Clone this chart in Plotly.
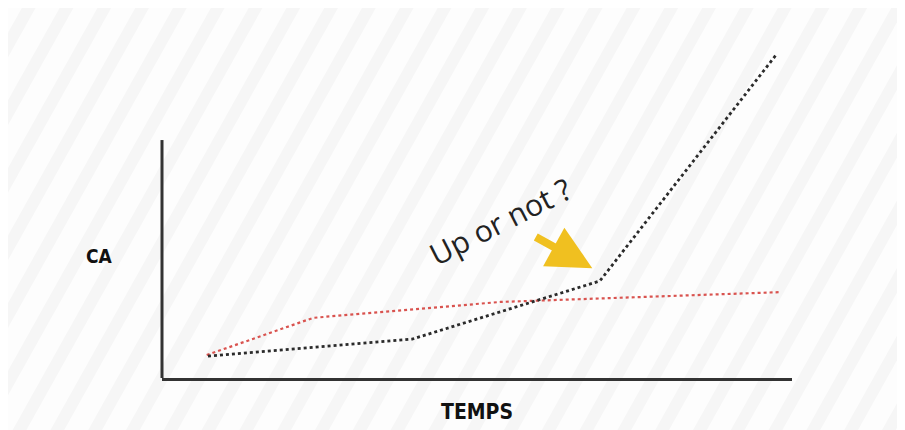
import plotly.graph_objects as go

# Data (x: time, y: CA)
black_x = [7.3, 39.7, 69.5, 97.6]
black_y = [6.5, 11.5, 28.7, 95.9]
red_x = [7.1, 24.0, 53.7, 98.1]
red_y = [6.8, 17.8, 22.5, 25.4]

x_label = "TEMPS"
y_label = "CA"
note = "Up or not ?"

fig = go.Figure()
fig.add_trace(go.Scatter(x=red_x, y=red_y, mode="lines",
                         line=dict(color="#d9534f", width=2.2, dash="dot")))
fig.add_trace(go.Scatter(x=black_x, y=black_y, mode="lines",
                         line=dict(color="#2b2b2b", width=2.8, dash="dot")))

# faint diagonal background stripes
shapes = []
for i in range(-12, 30):
    x0 = i * 0.06
    shapes.append(dict(type="line", xref="paper", yref="paper",
                       x0=x0, y0=-0.2, x1=x0 + 0.45, y1=1.3,
                       line=dict(color="#f6f6f6", width=12), layer="below"))
# y axis line (shorter than plot area)
shapes.append(dict(type="line", xref="paper", yref="y", x0=0, x1=0, y0=0, y1=70.4,
                   line=dict(color="#333333", width=3)))
fig.update_layout(shapes=shapes)

label_font = "DejaVu Sans Condensed, Liberation Sans Narrow, Liberation Sans, Arial"

fig.add_annotation(x=68.3, y=32.5, ax=-58, ay=-32, text="", showarrow=True,
                   arrowhead=2, arrowsize=1.1, arrowwidth=8, arrowcolor="#f0c020")
fig.add_annotation(x=53.6, y=46.4, text=note, showarrow=False, textangle=-27,
                   font=dict(family="Open Sans", size=30, color="#222222"))
fig.add_annotation(x=-0.1, y=0.36, xref="paper", yref="paper", text=y_label,
                   showarrow=False, xanchor="center",
                   font=dict(family=label_font, size=19, color="#111111", weight="bold"))
fig.add_annotation(x=0.5, y=-0.10, xref="paper", yref="paper", text=x_label,
                   showarrow=False, yanchor="middle",
                   font=dict(family=label_font, size=21, color="#111111", weight="bold"))

fig.update_xaxes(range=[0, 100], showgrid=False, zeroline=False, showticklabels=False,
                 ticks="", showline=True, linecolor="#333333", linewidth=3)
fig.update_yaxes(range=[0, 100], showgrid=False, zeroline=False, showticklabels=False,
                 ticks="", showline=False)
fig.update_layout(width=897, height=422, margin=dict(l=154, r=113, t=32, b=52),
                  paper_bgcolor="#fdfdfd", plot_bgcolor="rgba(0,0,0,0)",
                  showlegend=False)

fig.write_html("out.html")
